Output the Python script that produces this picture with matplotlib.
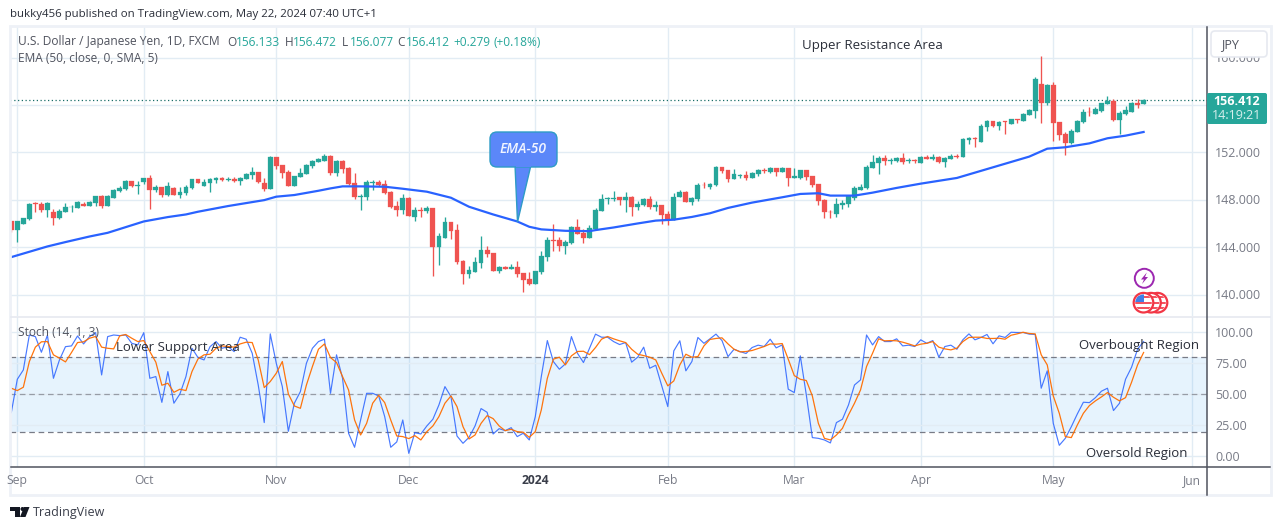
import matplotlib
matplotlib.use("Agg")
import matplotlib.pyplot as plt
from matplotlib.patches import Rectangle, FancyBboxPatch, Circle, Polygon

opens = [146.21,145.45,145.96,146.38,147.70,147.65,147.14,146.97,146.46,146.97,147.36,147.31,147.65,147.48,147.73,148.32,147.48,148.15,148.74,148.91,
149.59,149.20,149.51,149.84,148.83,149.08,148.41,149.00,148.41,148.58,149.00,149.76,149.17,149.42,149.67,149.84,149.70,149.76,149.62,149.76,
150.10,150.35,149.42,148.91,151.62,150.94,150.35,149.17,149.93,150.18,150.86,151.20,151.28,151.70,150.27,151.28,150.69,149.42,148.24,148.24,
149.45,149.51,149.34,148.66,147.48,147.14,148.15,146.55,147.14,147.05,147.31,144.01,144.77,146.12,145.45,142.83,141.73,141.90,142.66,143.76,
143.51,141.98,142.32,142.15,142.32,141.82,141.31,140.89,141.90,143.17,144.60,144.60,144.10,144.35,145.70,145.20,144.77,145.53,147.05,148.04,
148.10,148.24,147.98,148.24,147.39,147.57,148.08,147.43,147.57,146.81,146.30,148.25,148.67,147.82,148.08,149.29,149.09,149.26,150.78,150.53,
149.77,150.00,150.11,149.85,150.19,150.53,150.36,150.70,150.36,150.70,149.85,149.85,150.53,150.02,149.35,147.99,147.01,146.81,147.57,147.66,
148.16,148.84,149.01,150.70,151.12,151.54,151.32,151.29,151.54,151.32,151.37,151.12,151.63,151.46,151.63,151.21,151.46,151.71,151.62,153.05,
153.22,152.89,154.15,154.66,154.24,154.66,154.40,154.83,154.66,155.16,155.50,157.78,156.18,157.70,154.57,153.56,152.77,153.73,154.57,155.45,
155.25,155.50,156.09,156.35,154.74,155.25,155.42,156.18,156.133]
highs = [146.21,146.21,146.46,147.73,147.79,147.82,147.82,147.22,147.22,147.73,147.56,147.90,147.82,147.90,148.32,148.41,148.41,148.91,149.17,149.67,
149.59,149.59,149.84,150.10,149.25,149.08,149.51,149.08,149.08,149.25,149.76,149.76,149.76,149.84,149.93,149.93,149.93,149.93,149.93,150.27,
150.77,150.35,149.84,151.70,151.62,150.94,150.52,150.01,150.69,151.03,151.36,151.53,151.87,151.79,151.36,151.36,150.77,150.27,148.49,149.67,
149.67,149.67,149.67,148.74,147.90,148.49,148.24,147.39,147.39,147.48,147.31,145.20,146.55,146.12,145.96,142.91,142.41,143.17,144.94,144.10,
143.51,142.41,142.41,142.58,142.83,141.82,141.90,141.98,143.67,144.86,145.96,144.86,144.60,145.79,146.38,145.53,145.87,147.31,148.49,148.24,
148.74,148.24,148.66,148.32,147.90,148.16,148.33,147.91,147.57,147.06,148.59,148.84,148.75,148.25,149.43,149.52,149.43,150.87,150.78,150.53,
150.61,150.19,150.45,150.36,150.61,150.70,150.78,150.70,150.78,150.70,150.70,150.53,150.53,150.02,149.35,148.08,147.15,148.16,147.99,148.42,
149.18,149.35,150.95,151.80,151.71,151.80,151.54,151.63,151.97,151.54,151.46,151.71,151.80,151.88,151.71,151.63,151.88,151.88,153.22,153.31,
153.31,154.40,154.74,154.66,154.66,154.66,154.83,154.83,155.33,155.67,158.37,160.14,157.78,157.95,154.57,153.73,153.98,154.74,155.67,155.84,
155.84,156.18,156.77,156.51,155.50,155.92,156.26,156.51,156.472]
lows = [145.31,144.46,145.96,146.29,147.00,147.00,146.58,145.87,146.40,146.97,146.97,147.31,147.48,147.48,147.48,147.31,147.48,148.15,148.66,148.83,
149.08,148.49,149.34,147.22,148.66,148.24,148.32,148.41,148.15,148.41,148.91,149.42,149.17,148.66,149.42,149.59,149.59,149.51,149.25,149.76,
149.76,149.42,148.74,148.91,150.60,149.84,149.17,149.17,149.93,150.18,150.69,151.20,151.28,150.10,150.01,150.27,149.25,148.07,147.14,147.98,
148.83,149.17,148.49,147.31,146.63,146.80,146.63,146.21,146.55,146.89,141.56,142.49,144.77,144.69,142.58,140.89,141.39,141.90,142.24,143.17,
141.98,141.82,142.15,142.15,141.48,140.21,140.80,140.89,141.73,142.83,143.67,143.67,143.42,144.27,145.11,144.35,144.77,145.53,147.05,147.65,
147.90,147.56,146.97,146.63,147.14,147.49,147.23,147.06,145.97,145.88,146.30,148.25,147.82,147.57,147.91,149.01,148.92,149.18,150.28,149.52,
149.77,149.85,149.68,149.85,150.02,150.28,150.28,150.02,150.36,149.18,149.85,149.77,149.68,149.09,147.57,146.47,146.47,146.56,147.23,147.40,
147.99,148.84,148.92,150.70,150.19,150.95,151.04,151.21,151.04,151.12,151.12,151.12,151.46,151.37,151.12,150.78,151.46,151.54,151.62,152.72,
152.46,152.89,153.81,154.15,153.90,153.56,154.40,154.49,154.66,155.16,154.91,154.49,156.01,152.97,153.05,151.79,152.72,153.73,154.49,155.08,
155.25,155.42,156.09,154.66,153.56,155.16,155.42,155.75,156.077]
closes = [145.45,146.21,146.46,147.65,147.62,147.14,147.73,146.46,147.05,147.39,147.42,147.82,147.48,147.82,148.32,147.48,148.32,148.83,149.00,149.59,
149.17,149.25,149.84,148.83,149.08,148.41,149.17,148.41,148.66,149.08,149.76,149.42,149.51,149.76,149.84,149.67,149.79,149.62,149.84,150.18,
150.35,149.51,148.91,151.62,150.89,150.27,149.17,150.01,150.27,150.94,151.28,151.45,151.70,150.27,151.28,150.60,149.34,148.24,148.32,149.51,
149.51,149.25,148.58,147.39,147.14,148.15,146.63,147.14,147.08,147.31,144.01,144.94,146.12,145.36,142.74,141.73,142.07,142.74,143.76,143.42,
141.98,142.32,142.15,142.32,141.73,141.22,140.89,141.98,143.25,144.60,144.55,144.10,144.43,145.70,145.11,144.77,145.62,147.14,148.07,148.12,
148.15,147.98,148.24,147.39,147.65,148.08,147.40,147.57,146.73,146.30,148.25,148.67,147.82,148.16,149.26,149.23,149.35,150.78,150.45,149.77,
150.19,150.08,149.85,150.28,150.53,150.47,150.70,150.36,150.70,149.85,150.02,150.53,149.94,149.26,147.91,146.98,146.95,147.66,147.74,148.33,
149.01,149.09,150.78,151.21,151.54,151.29,151.37,151.54,151.21,151.37,151.29,151.63,151.46,151.63,151.21,151.54,151.71,151.63,153.14,153.22,
153.14,154.24,154.66,154.24,154.57,154.57,154.83,154.74,155.25,155.59,158.20,156.18,157.70,154.49,153.48,152.80,153.81,154.66,155.42,155.39,
155.67,156.18,156.35,154.74,155.33,155.59,156.18,156.01,156.412]

ema_bars = [0,3,6,9,13,16,19,22,26,29,31,36,42,44,47,51,53,55,58,62,65,69,73,76,80,84,86,88,92,96,97,100,104,107,110,113,116,119,123,128,131,134,136,140,143,147,151,157,160,163,166,169,172,175,179,182,185,188]
ema_vals = [143.17,143.62,144.07,144.44,144.91,145.22,145.70,146.18,146.55,146.77,147.00,147.48,147.98,148.27,148.41,148.77,148.97,149.14,149.14,149.11,148.94,148.69,148.18,147.42,146.77,146.18,145.73,145.51,145.39,145.36,145.45,145.67,146.01,146.25,146.33,146.56,146.87,147.32,147.77,148.22,148.50,148.56,148.36,148.36,148.61,149.01,149.37,149.85,150.30,150.75,151.20,151.65,152.32,152.44,152.77,153.20,153.42,153.73]

stoch_k = [35.2,62.1,69.6,97.8,96.5,83.9,97.6,62.9,77.7,88.4,89.0,97.0,90.6,96.5,99.7,65.6,96.5,97.8,97.3,97.8,
91.1,89.8,99.7,62.9,64.3,43.5,68.3,42.8,50.3,64.3,87.1,79.6,77.7,88.4,92.5,87.1,88.4,84.4,96.0,94.4,
83.1,57.5,27.2,98.7,75.0,56.2,20.2,42.8,52.2,75.0,87.1,92.5,94.4,50.8,81.8,62.9,18.6,7.3,29.3,50.8,
50.8,48.7,32.0,7.3,11.6,29.3,2.4,19.1,18.0,24.5,29.9,41.4,56.2,48.1,16.4,10.5,15.3,24.5,38.5,35.5,
18.0,22.3,20.7,23.1,15.9,18.6,13.2,32.0,64.3,93.3,76.4,70.2,74.5,96.5,83.1,75.6,87.1,98.5,96.0,96.0,
92.5,90.1,91.7,75.9,79.9,88.0,71.0,73.4,56.8,40.1,85.0,93.1,68.9,76.4,95.8,91.1,94.7,98.5,93.3,80.4,
86.3,84.4,82.9,87.7,89.6,88.5,94.4,87.4,89.8,54.1,51.4,81.0,49.5,15.1,14.5,13.2,10.8,27.2,29.9,41.4,
57.5,61.6,97.8,89.8,96.5,92.5,92.5,94.7,89.0,89.6,88.5,93.9,91.1,93.3,79.9,88.5,89.6,86.3,94.0,98.7,
93.9,95.8,98.2,90.7,97.1,95.8,100.0,99.8,99.8,98.5,98.2,54.9,68.9,26.6,8.9,14.5,23.9,34.2,43.6,43.3,
47.3,52.5,54.9,36.9,42.8,62.1,71.8,86.4,92.5]
stoch_d = [54.9,53.0,55.7,76.4,88.0,92.3,92.5,81.8,79.1,76.1,83.7,91.7,92.3,95.2,96.6,88.0,87.1,86.6,97.1,98.2,
95.2,92.5,93.3,84.5,75.9,57.3,58.9,51.6,54.1,53.0,68.3,78.5,81.8,82.3,87.1,89.0,88.5,88.0,90.6,92.0,
91.7,77.7,55.4,60.3,67.0,76.4,50.3,40.6,38.7,57.5,72.4,86.3,90.6,79.6,75.6,64.3,53.5,29.3,17.2,26.6,
42.8,49.2,43.3,29.3,16.4,15.9,14.3,16.7,13.2,19.9,24.5,32.0,42.8,48.7,40.1,23.9,14.0,17.2,26.6,32.8,
30.4,24.5,20.7,21.8,19.9,19.4,15.3,19.9,37.4,62.9,78.3,79.9,73.7,81.0,84.5,84.7,82.0,87.7,94.4,96.6,
94.7,93.1,91.7,86.3,82.3,81.2,79.9,77.7,67.0,56.8,60.8,73.7,82.3,79.9,80.4,89.0,94.2,95.0,95.5,90.6,
86.3,84.2,84.5,85.3,86.9,88.5,90.6,90.4,90.9,78.3,65.1,62.1,61.1,48.7,26.6,14.5,13.2,17.2,22.6,33.4,
42.8,53.5,72.4,83.1,94.7,93.1,93.3,93.1,92.0,90.6,89.0,90.4,91.1,92.5,88.0,86.6,85.8,87.2,92.5,95.8,
96.0,96.0,95.0,95.0,95.2,94.4,97.6,98.7,100.0,99.0,98.7,81.8,73.7,48.7,34.7,15.9,15.1,25.3,34.7,40.9,
44.7,47.9,51.4,47.6,44.7,47.3,59.7,73.7,83.7]

month_bars = [1,22,44,66,87,109,130,151,173,196]
month_labels = ["Sep","Oct","Nov","Dec","2024","Feb","Mar","Apr","May","Jun"]
price_ticks = [140,144,148,152,156,160]
price_labels = ["140.000","144.000","148.000","152.000","","160.000"]
stoch_ticks = [0,25,50,75,100]
stoch_labels = ["0.00","25.00","50.00","75.00","100.00"]
stoch_bands = [20,50,80]
last_price = 156.412

W, H = 1281, 530
UP, DOWN = "#26a69a", "#ef5350"
GRID = "#e2ecf4"
GRAY = "#787b86"
DARK = "#2a2e39"
FONT = ["Open Sans", "DejaVu Sans"]
plt.rcParams["font.family"] = FONT

fig = plt.figure(figsize=(W/100, H/100), dpi=100, facecolor="white")

def box(l, t, r, b):
    return [l/W, 1-b/H, (r-l)/W, (b-t)/H]

L, R = 10, 1207
xlim = ((L-11.28)/6.023, (R-11.28)/6.023)

ax = fig.add_axes(box(L, 27, R, 316))
ax.set_xlim(*xlim); ax.set_ylim(138.2, 162.59)
ax2 = fig.add_axes(box(L, 317, R, 467))
ax2.set_xlim(*xlim); ax2.set_ylim(-8.6, 112.3)
for a in (ax, ax2):
    a.set_xticks([]); a.set_yticks([])
    for s in a.spines.values():
        s.set_visible(False)
    for m in month_bars:
        a.axvline(m, color=GRID, lw=1.0, zorder=0)
for p in price_ticks:
    ax.axhline(p, color=GRID, lw=1.0, zorder=0)
for s in stoch_ticks:
    ax2.axhline(s, color=GRID, lw=1.0, zorder=1)

# candles
for i, (o, h, l, c) in enumerate(zip(opens, highs, lows, closes)):
    col = UP if c >= o else DOWN
    ax.vlines(i, l, h, color=col, lw=0.95, zorder=3)
    ax.bar(i, abs(c-o), bottom=min(o, c), width=0.8, color=col, ec=col, lw=0.2, zorder=3)
ax.plot(ema_bars, ema_vals, color="#2962ff", lw=1.6, zorder=4, solid_joinstyle="round")
ax.axhline(last_price, color="#1a6f68", lw=0.9, ls=(0, (1, 2)), zorder=2)

# stochastic
ax2.axhspan(stoch_bands[0], stoch_bands[2], color="#2196f3", alpha=0.11, lw=0, zorder=0)
for b in stoch_bands:
    ax2.axhline(b, color=GRAY, lw=0.9, ls=(0, (4.5, 3)), zorder=2, alpha=0.7 if b == 50 else 1.0)
ax2.plot(range(len(stoch_k)), stoch_k, color="#2962ff", lw=0.85, alpha=0.85, zorder=3)
ax2.plot(range(len(stoch_d)), stoch_d, color="#ff6d00", lw=0.9, alpha=0.95, zorder=4)

# overlay in pixel coordinates for chrome and annotations
ov = fig.add_axes([0, 0, 1, 1], zorder=10)
ov.set_xlim(0, W); ov.set_ylim(H, 0); ov.axis("off"); ov.patch.set_alpha(0)

FRAME = "#eef1f7"
ov.add_patch(Rectangle((10, 26), 1260.5, 469, fill=False, ec=FRAME, lw=2))
ov.plot([11, 1270], [316.5, 316.5], color="#e6e9f0", lw=1.2)
ov.plot([11, 1270], [467, 467], color="#50535e", lw=1.1)
ov.plot([1207, 1207], [27, 495], color="#50535e", lw=1.1)

def t(x, y, s, size=8.7, color=GRAY, ha="left", **kw):
    return ov.text(x, y+1, s, fontsize=size, color=color, ha=ha, va="center", **kw)

# right scales
for p, lab in zip(price_ticks, price_labels):
    if lab:
        t(1215, 152.5-(p-152)*11.85, lab, size=9)
for s, lab in zip(stoch_ticks, stoch_labels):
    t(1215, 456.3-s*1.24, lab, size=9)
ov.add_patch(FancyBboxPatch((1213, 33), 52, 22, boxstyle="round,pad=2,rounding_size=4", fc="white", ec="#e6e9f0", lw=1.2, zorder=6))
t(1229.5, 44, "JPY", size=9, color="#50535e", ha="center", zorder=7)
ov.add_patch(FancyBboxPatch((1208, 94), 58, 29, boxstyle="round,pad=1,rounding_size=2", fc=UP, ec="none", zorder=6))
t(1236.5, 100.5, f"{last_price:.3f}", size=9, color="white", ha="center", fontweight="bold", zorder=7)
t(1236.5, 114.7, "14:19:21", size=9, color="#d6efec", ha="center", zorder=7)

# time axis
for m, lab in zip(month_bars, month_labels):
    x = 11.28+6.023*m
    if lab == "2024":
        t(x, 479.5, lab, size=8.7, color="#3a3e4a", ha="center", fontweight="bold")
    else:
        t(x, 479.5, lab, size=8.7, ha="center")

# header texts
t(10, 13.5, "bukky456 published on TradingView.com, May 22, 2024 07:40 UTC+1", size=8.25, color=DARK)
LEG = "#50535e"
t(18, 41, "U.S. Dollar / Japanese Yen, 1D, FXCM", size=8.6, color=LEG)
for x, s in [(227, "O"), (285, "H"), (342, "L"), (397, "C")]:
    t(x, 41, s, size=8.6, color=LEG)
for x, s in [(236, "156.133"), (293, "156.472"), (350, "156.077"), (406, "156.412"), (453, "+0.279"), (494, "(+0.18%)")]:
    t(x, 41, s, size=8.6, color=UP)
t(18, 58, "EMA (50, close, 0, SMA, 5)", size=8.6, color=LEG)
t(18, 331, "Stoch (14, 1, 3)", size=8.6, color=LEG)

# drawn labels
for x, y, s in [(802, 45, "Upper Resistance Area"), (116, 346, "Lower Support Area"),
                (1079, 344, "Overbought Region"), (1086, 453, "Oversold Region")]:
    t(x, y, s, size=9.55, color="#2a2e39")

# EMA-50 callout
bubble = "#5b87f9"
edge = "#2e9bc6"
ov.add_patch(Polygon([(515, 165), (517.5, 222), (531, 165)], closed=True, fc=bubble, ec=edge, lw=1, zorder=6))
ov.add_patch(FancyBboxPatch((495, 137), 57, 25, boxstyle="round,pad=5,rounding_size=7", fc=bubble, ec=edge, lw=1, zorder=6))
ov.add_patch(Rectangle((516, 160), 14.5, 7, fc=bubble, ec="none", zorder=7))
t(523, 148, "EMA-50", size=10, color="#f2f5ff", ha="center", fontstyle="italic", fontweight="semibold", zorder=8)

# event icons
ov.add_patch(Circle((1144.3, 278.3), 9.5, fc="white", ec="#9c27b0", lw=1.4, zorder=6))
ov.add_patch(Polygon([(1146.8, 272.5), (1141, 279.5), (1144, 279.5), (1142, 284), (1148, 277), (1145, 277)], closed=True, fc="#9c27b0", ec="none", zorder=7))
RED = "#f23645"
for cx, z in [(1157.5, 6), (1151, 7), (1143.5, 8)]:
    ov.add_patch(Circle((cx, 302.7), 9.8, fc="white", ec=RED, lw=1.6, zorder=z))
    clip = Circle((cx, 302.7), 8.3, transform=ov.transData)
    for yy in (296, 301.5, 307):
        st = Rectangle((cx-9, yy), 18, 2.2, fc=RED, ec="none", alpha=0.85, zorder=z)
        ov.add_patch(st); st.set_clip_path(clip)
    if cx == 1143.5:
        ca = Rectangle((cx-9, 294), 9, 8, fc="#3f7fe8", ec="none", zorder=z)
        ov.add_patch(ca); ca.set_clip_path(clip)

# footer logo
ov.add_patch(Polygon([(10, 507), (20, 507), (20, 517), (15, 517), (15, 511), (10, 511)], closed=True, fc="#131722", ec="none"))
ov.add_patch(Circle((22.5, 509), 2, fc="#131722", ec="none"))
ov.add_patch(Polygon([(24, 507), (29.5, 507), (25.5, 517), (20, 517)], closed=True, fc="#131722", ec="none"))
t(33, 511.5, "TradingView", size=9.0, color="#3a3e4a")

fig.savefig("out.png", dpi=100, facecolor="white")
